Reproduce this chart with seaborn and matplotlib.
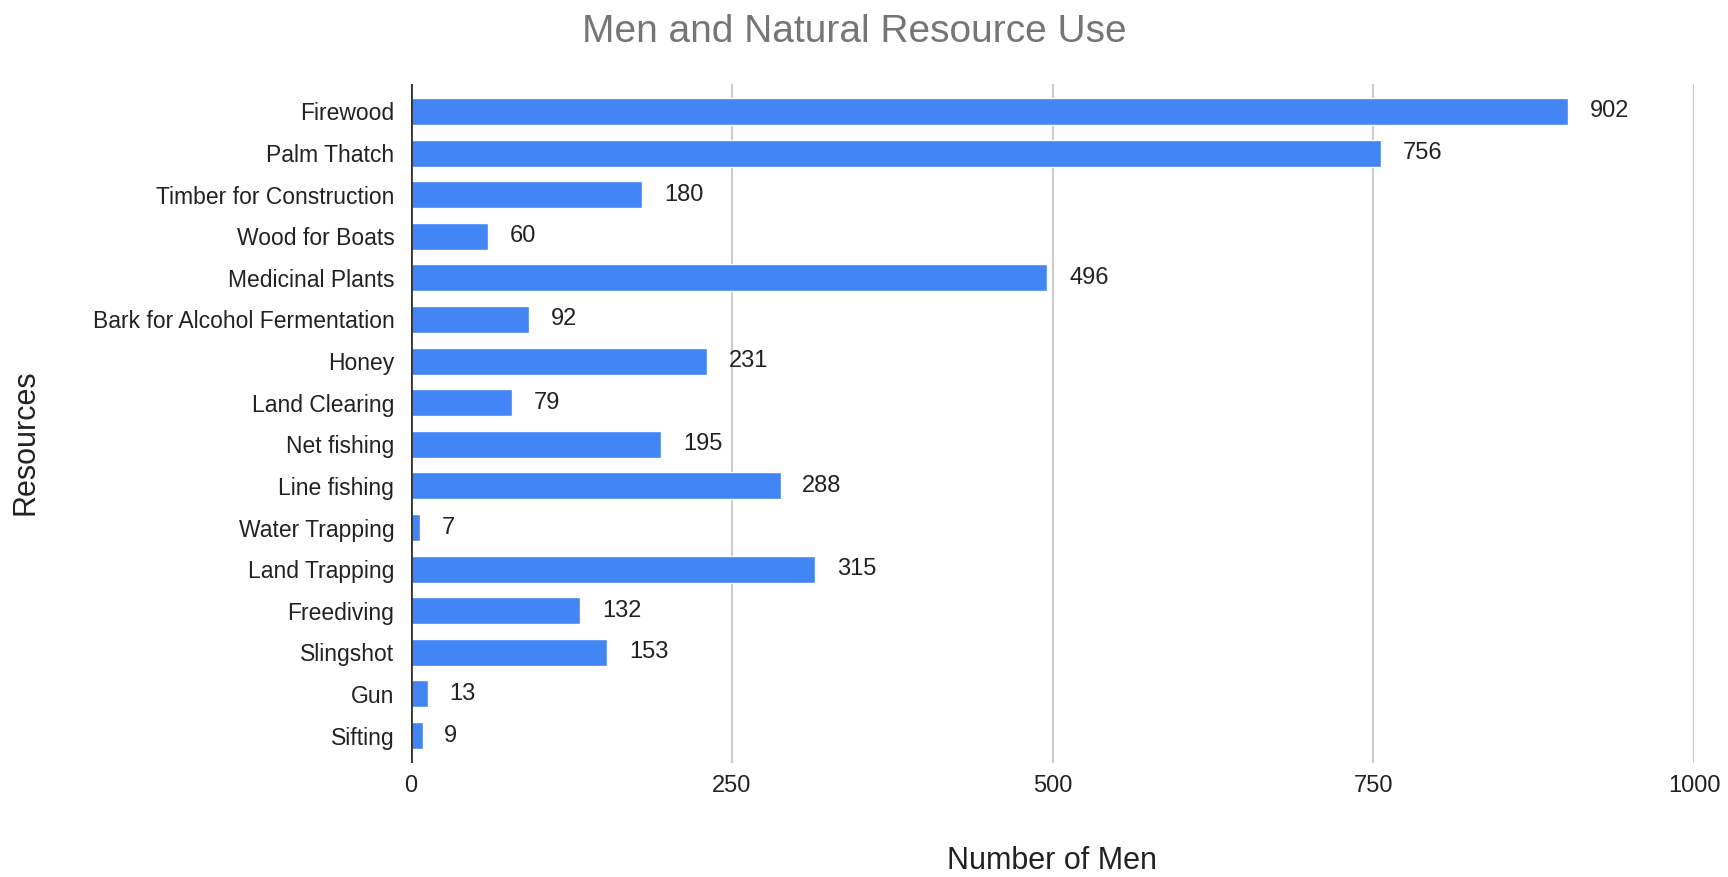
import matplotlib
matplotlib.use("Agg")
import matplotlib.pyplot as plt
import seaborn as sns
import pandas as pd

resources = [
    "Firewood", "Palm Thatch", "Timber for Construction", "Wood for Boats",
    "Medicinal Plants", "Bark for Alcohol Fermentation", "Honey", "Land Clearing",
    "Net fishing", "Line fishing", "Water Trapping", "Land Trapping",
    "Freediving", "Slingshot", "Gun", "Sifting",
]
men = [902, 756, 180, 60, 496, 92, 231, 79, 195, 288, 7, 315, 132, 153, 13, 9]
x_ticks = [0, 250, 500, 750, 1000]

df = pd.DataFrame({"Resources": resources, "Number of Men": men})

sns.set_theme(style="white")
plt.rcParams["font.family"] = ["Liberation Sans", "DejaVu Sans"]

fig = plt.figure(figsize=(17.28, 8.77), dpi=100)
ax = fig.add_axes([411 / 1728, 1 - 763 / 877, (1694 - 411) / 1728, (763 - 84) / 877])

sns.barplot(data=df, x="Number of Men", y="Resources", color="#4285F4",
            saturation=1, width=0.65, ax=ax, zorder=3)

ax.set_xlim(0, 1000)
ax.set_ylim(15.66, -0.66)
ax.set_xticks(x_ticks)
ax.set_xticklabels([str(t) for t in x_ticks], fontsize=17, color="#222222")
ax.tick_params(axis="x", length=0, pad=9)
ax.tick_params(axis="y", length=0, pad=12, labelsize=16.5, labelcolor="#222222")

for v in x_ticks[1:]:
    ax.axvline(v, color="#cccccc", lw=1.5, zorder=1)
ax.axvline(0, color="#333333", lw=2, zorder=4)

for s in ax.spines.values():
    s.set_visible(False)

for i, v in enumerate(men):
    ax.text(v + 17, i, str(v), va="center", ha="left", fontsize=17, color="#222222")

ax.set_xlabel("Number of Men", fontsize=22, color="#222222")
ax.set_ylabel("Resources", fontsize=22, color="#222222")
ax.yaxis.set_label_coords(-(411 - 40) / 1283, 0.472)
ax.xaxis.set_label_coords((1052 - 411) / 1283, -(846 - 763) / 679)

fig.text(854 / 1728, 1 - 32 / 877, "Men and Natural Resource Use", ha="center",
         va="center", fontsize=28, color="#757575")

fig.savefig("out.png", dpi=100, facecolor="white")
